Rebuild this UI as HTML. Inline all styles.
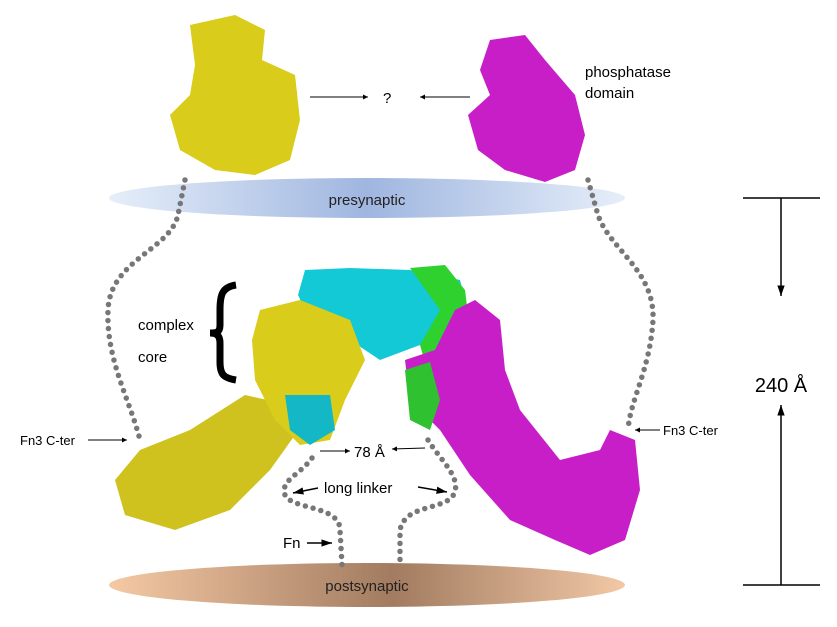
<!DOCTYPE html>
<html><head><meta charset="utf-8"><style>
body{margin:0;background:#fff;}
svg{display:block;font-family:"Liberation Sans",sans-serif;}
</style></head><body>
<svg width="837" height="627" viewBox="0 0 837 627">
<defs>
<linearGradient id="pre" x1="0" x2="1"><stop offset="0" stop-color="#e6eef9"/><stop offset="0.5" stop-color="#9fb6e0"/><stop offset="1" stop-color="#e6eef9"/></linearGradient>
<linearGradient id="post" x1="0" x2="1"><stop offset="0" stop-color="#f5c9a4"/><stop offset="0.55" stop-color="#a27b60"/><stop offset="1" stop-color="#f2c8a6"/></linearGradient>
<marker id="ah" viewBox="0 0 10 10" refX="10" refY="5" markerWidth="7" markerHeight="7" orient="auto"><path d="M0,1.5 L10,5 L0,8.5z" fill="#000"/></marker>
<marker id="ah2" viewBox="0 0 10 10" refX="10" refY="5" markerWidth="5" markerHeight="5" orient="auto"><path d="M0,0 L10,5 L0,10z" fill="#000"/></marker>
</defs>
<ellipse cx="367" cy="198" rx="258" ry="20" fill="url(#pre)"/>
<text x="367" y="205" font-size="15" text-anchor="middle" fill="#222">presynaptic</text>
<ellipse cx="367" cy="585" rx="258" ry="22" fill="url(#post)"/>
<text x="367" y="591" font-size="15" text-anchor="middle" fill="#222">postsynaptic</text>
<g fill="none" stroke="#777" stroke-width="5.5" stroke-linecap="round" stroke-dasharray="0 8">
<path d="M185,180 L178,215 C170,250 110,260 108,310 C106,360 130,400 140,440"/>
<path d="M588,180 L598,215 C610,250 655,270 653,320 C650,370 630,400 628,430"/>
<path d="M312,458 C300,475 280,480 285,495 C292,510 340,505 340,530 L342,565"/>
<path d="M428,440 C440,460 465,480 452,497 C440,510 405,505 400,530 L400,565"/>
</g>
<path d="M190,25 L235,15 L265,30 L262,60 L295,75 L300,120 L290,160 L255,175 L215,170 L180,150 L170,115 L190,95 L195,65z" fill="#d9cc1a"/>
<path d="M490,40 L525,35 L545,60 L575,95 L585,135 L575,170 L545,182 L505,170 L478,150 L468,115 L490,95 L480,70z" fill="#c81ec8"/>
<path d="M140,450 L190,430 L245,395 L290,405 L295,435 L270,470 L230,510 L175,530 L125,515 L115,480z" fill="#cfc21e"/>
<path d="M305,270 L350,268 L410,270 L460,280 L470,320 L450,350 L420,345 L380,360 L350,340 L310,320 L298,295z" fill="#13c9d6"/>
<path d="M410,268 L445,265 L465,290 L470,330 L450,365 L430,380 L420,345 L440,310z" fill="#2fd12f"/>
<path d="M260,310 L300,300 L350,320 L365,360 L345,400 L330,440 L300,445 L275,420 L255,380 L252,340z" fill="#d9cc1a"/>
<path d="M285,395 L330,395 L335,430 L310,445 L290,430z" fill="#13b7c6"/>
<path d="M405,360 L435,350 L455,310 L475,300 L500,320 L505,370 L520,410 L560,460 L600,450 L610,430 L635,440 L640,490 L625,540 L590,555 L555,540 L510,520 L470,475 L440,430 L410,400z" fill="#c81ec8"/>
<path d="M405,370 L430,362 L440,400 L430,430 L410,420z" fill="#2fc12f"/>
<!-- brace -->
<path d="M236,285 C222,287 220,295 220,310 L220,325 C220,333 216,333 210,333 C216,333 220,335 220,343 L220,362 C220,375 224,378 236,380" fill="none" stroke="#000" stroke-width="7"/>
<text x="138" y="330" font-size="15">complex</text>
<text x="138" y="362" font-size="15">core</text>
<line x1="310" y1="97" x2="368" y2="97" stroke="#000" marker-end="url(#ah2)"/>
<text x="383" y="103" font-size="15">?</text>
<line x1="470" y1="97" x2="420" y2="97" stroke="#000" marker-end="url(#ah2)"/>
<text x="585" y="77" font-size="15">phosphatase</text>
<text x="585" y="98" font-size="15">domain</text>
<text x="20" y="445" font-size="13">Fn3 C-ter</text>
<line x1="88" y1="440" x2="127" y2="440" stroke="#000" marker-end="url(#ah2)"/>
<line x1="660" y1="430" x2="635" y2="430" stroke="#000" marker-end="url(#ah2)"/>
<text x="663" y="435" font-size="13">Fn3 C-ter</text>
<line x1="320" y1="451" x2="350" y2="451" stroke="#000" marker-end="url(#ah2)"/>
<text x="354" y="457" font-size="15">78 Å</text>
<line x1="425" y1="448" x2="392" y2="449" stroke="#000" marker-end="url(#ah2)"/>
<text x="324" y="493" font-size="15">long linker</text>
<line x1="318" y1="488" x2="293" y2="493" stroke="#000" stroke-width="1.5" marker-end="url(#ah)"/>
<line x1="418" y1="487" x2="447" y2="492" stroke="#000" stroke-width="1.5" marker-end="url(#ah)"/>
<text x="283" y="548" font-size="15">Fn</text>
<line x1="307" y1="543" x2="332" y2="543" stroke="#000" stroke-width="1.5" marker-end="url(#ah)"/>
<line x1="743" y1="198" x2="820" y2="198" stroke="#000" stroke-width="1.5"/>
<line x1="743" y1="585" x2="820" y2="585" stroke="#000" stroke-width="1.5"/>
<line x1="781" y1="198" x2="781" y2="296" stroke="#000" stroke-width="1.5" marker-end="url(#ah)"/>
<line x1="781" y1="585" x2="781" y2="405" stroke="#000" stroke-width="1.5" marker-end="url(#ah)"/>
<text x="781" y="392" font-size="20" text-anchor="middle">240 Å</text>
</svg>
</body></html>
